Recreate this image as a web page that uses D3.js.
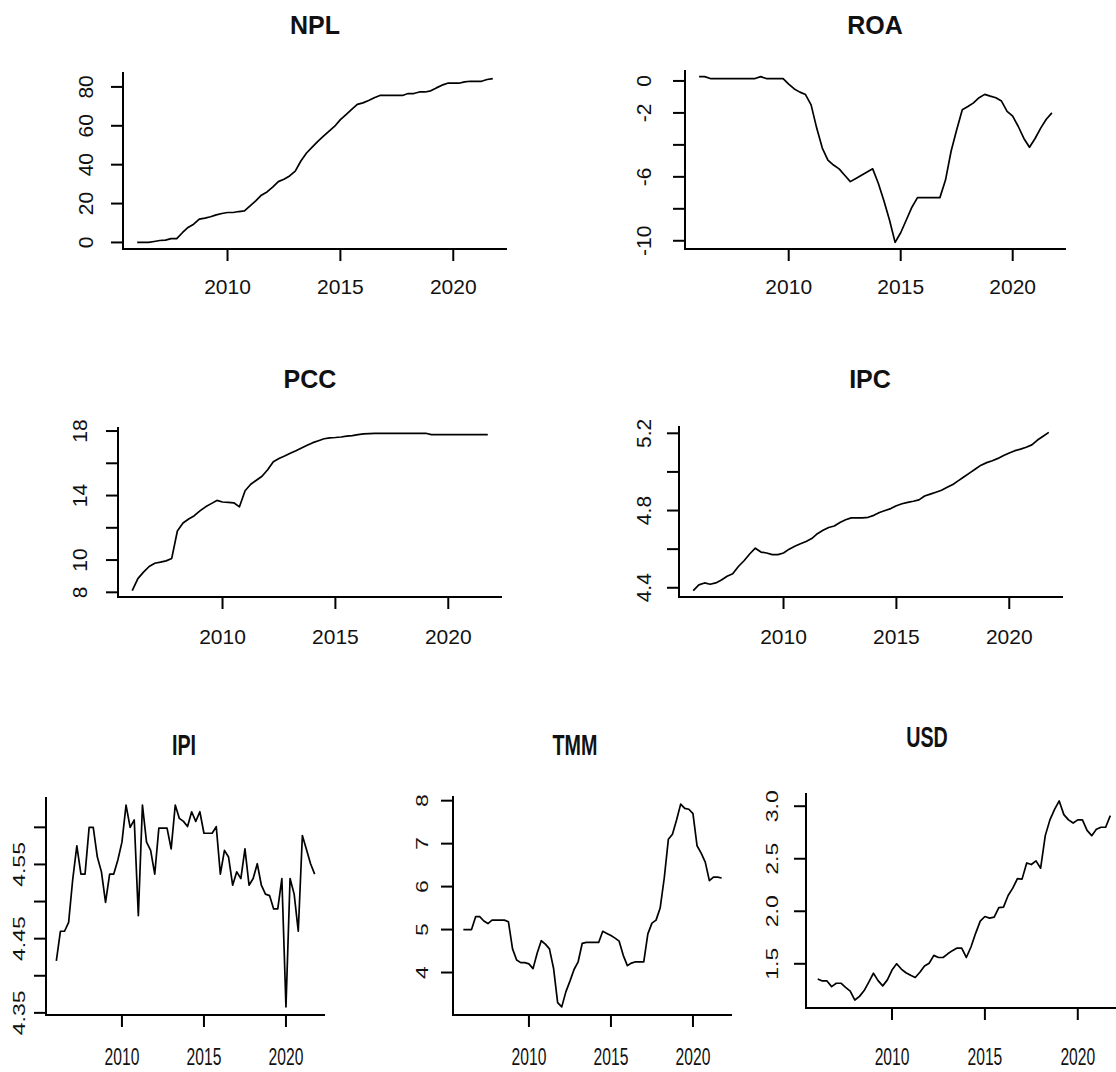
<!DOCTYPE html>
<html>
<head>
<meta charset="utf-8">
<script src="https://cdn.jsdelivr.net/npm/d3@7"></script>
<style>
  body { margin: 0; background: #fff; }
  svg { display: block; }
  text { font-family: "Liberation Sans", Arial, sans-serif; fill: #111; }
</style>
</head>
<body>
<div id="chart"></div>
<script>
// 1- Data (quarterly, 2006 Q1 - 2021 Q4)------------------------------------------------------
const quarters = d3.range(64).map(i => 2006 + i / 4);
const yearTicks = [2010, 2015, 2020];

const nplValues = [0,0,0,0.5, 1,1.2,2,2, 5,7.7,9.4,12, 12.5,13.2,14.2,14.9,
    15.4,15.4,15.9,16.2, 18.8,21.4,24.3,26, 28.5,31.3,32.5,34.2, 36.7,41.9,46,49,
    52,54.7,57.3,59.8, 63.2,65.8,68.4,71, 71.8,73,74.4,75.6, 75.6,75.6,75.6,75.6,
    76.6,76.6,77.4,77.4, 78,79.5,80.9,81.9, 81.9,81.9,82.6,82.9, 82.9,82.9,83.8,84.3];

const roaValues = [0.27,0.27,0.15,0.15, 0.15,0.15,0.15,0.15, 0.15,0.15,0.15,0.27, 0.15,0.15,0.15,0.15,
    -0.2,-0.5,-0.7,-0.85, -1.5,-2.95,-4.2,-4.95, -5.26,-5.5,-5.9,-6.3, -6.1,-5.9,-5.7,-5.5,
    -6.4,-7.5,-8.7,-10.1, -9.5,-8.7,-7.9,-7.3, -7.3,-7.3,-7.3,-7.3, -6.2,-4.4,-3.05,-1.8,
    -1.6,-1.37,-1.05,-0.84, -0.95,-1.05,-1.26,-1.9, -2.2,-2.85,-3.6,-4.15, -3.6,-2.95,-2.4,-2.0];

const pccValues = [8.1,8.85,9.25,9.6, 9.8,9.87,9.95,10.1, 11.8,12.3,12.55,12.75, 13.05,13.3,13.5,13.7,
    13.6,13.58,13.55,13.3, 14.3,14.7,14.95,15.2, 15.6,16.1,16.3,16.45, 16.62,16.78,16.95,17.12,
    17.28,17.4,17.52,17.58, 17.6,17.63,17.68,17.72, 17.78,17.82,17.84,17.86, 17.86,17.86,17.86,17.86,
    17.86,17.86,17.86,17.86, 17.86,17.78,17.78,17.78, 17.78,17.78,17.78,17.78, 17.78,17.78,17.78,17.78];

const ipcValues = [4.385,4.415,4.425,4.418, 4.425,4.44,4.46,4.473, 4.51,4.54,4.575,4.605, 4.585,4.58,4.572,4.572,
    4.58,4.6,4.615,4.628, 4.64,4.655,4.68,4.698, 4.712,4.72,4.738,4.752, 4.762,4.762,4.762,4.765,
    4.775,4.79,4.8,4.81, 4.825,4.835,4.842,4.848, 4.855,4.875,4.885,4.895, 4.905,4.92,4.935,4.955,
    4.975,4.995,5.015,5.035, 5.048,5.058,5.07,5.085, 5.098,5.11,5.118,5.128, 5.14,5.165,5.185,5.205];

const ipiValues = [4.42,4.46,4.46,4.472, 4.53,4.575,4.537,4.537, 4.6,4.6,4.56,4.54, 4.499,4.537,4.537,4.556,
    4.58,4.63,4.6,4.61, 4.481,4.63,4.58,4.569, 4.537,4.599,4.599,4.599, 4.571,4.63,4.612,4.608,
    4.601,4.621,4.608,4.621, 4.592,4.592,4.592,4.601, 4.537,4.569,4.56,4.522, 4.54,4.531,4.571,4.522,
    4.531,4.551,4.522,4.51, 4.508,4.49,4.49,4.531, 4.358,4.531,4.51,4.46, 4.589,4.57,4.551,4.537];

const tmmValues = [5.0,5.0,5.0,5.3, 5.3,5.2,5.14,5.22, 5.22,5.22,5.22,5.18, 4.55,4.29,4.23,4.23,
    4.2,4.09,4.45,4.74, 4.66,4.55,4.1,3.3, 3.2,3.55,3.8,4.07, 4.25,4.68,4.7,4.7,
    4.7,4.7,4.96,4.91, 4.86,4.8,4.73,4.4, 4.16,4.22,4.25,4.25, 4.25,4.9,5.15,5.22,
    5.5,6.2,7.1,7.22, 7.55,7.92,7.82,7.8, 7.7,6.95,6.78,6.57, 6.14,6.22,6.22,6.2];

const usdValues = [1.356,1.337,1.337,1.283, 1.315,1.315,1.275,1.24, 1.155,1.19,1.245,1.325, 1.41,1.34,1.29,1.347,
    1.44,1.5,1.45,1.415, 1.39,1.37,1.42,1.48, 1.505,1.58,1.56,1.56, 1.595,1.625,1.65,1.65,
    1.56,1.66,1.79,1.906, 1.95,1.935,1.945,2.034, 2.04,2.15,2.22,2.31, 2.306,2.46,2.445,2.48,
    2.41,2.72,2.87,2.97, 3.05,2.92,2.87,2.84, 2.87,2.87,2.77,2.72, 2.78,2.8,2.8,2.91];

// y ticks, and the ticks that carry a label
const nplTicks = [0, 20, 40, 60, 80],              nplLabels = [0, 20, 40, 60, 80];
const roaTicks = [-10, -8, -6, -4, -2, 0],         roaLabels = [-10, -6, -2, 0];
const pccTicks = [8, 10, 12, 14, 16, 18],          pccLabels = [8, 10, 14, 18];
const ipcTicks = [4.4, 4.6, 4.8, 5.0, 5.2],        ipcLabels = [4.4, 4.8, 5.2];
const ipiTicks = [4.35, 4.40, 4.45, 4.50, 4.55, 4.60], ipiLabels = [4.35, 4.45, 4.55];
const tmmTicks = [4, 5, 6, 7, 8],                  tmmLabels = [4, 5, 6, 7, 8];
const usdTicks = [1.5, 2.0, 2.5, 3.0],             usdLabels = [1.5, 2.0, 2.5, 3.0];

// 2- SVG wrapper-------------------------------------------------------------------------------
const svgWidth = 1116;
const svgHeight = 1072;

const svg = d3.select("#chart")
    .append("svg")
    .attr("width", svgWidth)
    .attr("height", svgHeight);

// R-like padded extent (4% each side)
function padded(ext) {
    const p = (ext[1] - ext[0]) * 0.04;
    return [ext[0] - p, ext[1] + p];
}

// 3- One panel---------------------------------------------------------------------------------
function drawPanel(p) {
    const g = svg.append("g");
    const sq = p.squeeze || 1;

    const x = d3.scaleLinear()
        .domain(padded(d3.extent(quarters)))
        .range([p.l, p.r]);
    const y = d3.scaleLinear()
        .domain(padded(d3.extent(p.values)))
        .range([p.b, p.t]);

    // L-shaped frame
    g.append("path")
        .attr("d", `M${p.l},${p.t}V${p.b}H${p.r}`)
        .attr("fill", "none")
        .attr("stroke", "#000")
        .attr("stroke-width", 2);

    // x ticks + labels
    g.selectAll(".xt").data(yearTicks).enter().append("line")
        .attr("x1", d => x(d)).attr("x2", d => x(d))
        .attr("y1", p.b).attr("y2", p.b + p.tick)
        .attr("stroke", "#000").attr("stroke-width", 2);

    g.selectAll(".xl").data(yearTicks).enter().append("text")
        .attr("transform", d => `translate(${x(d)},${p.xLabelY}) scale(${sq},1)`)
        .attr("text-anchor", "middle")
        .attr("dominant-baseline", "central")
        .attr("font-size", p.fs)
        .text(d => d);

    // y ticks + labels
    g.selectAll(".yt").data(p.ticks).enter().append("line")
        .attr("x1", p.l).attr("x2", p.l - p.tick)
        .attr("y1", d => y(d)).attr("y2", d => y(d))
        .attr("stroke", "#000").attr("stroke-width", 2);

    g.selectAll(".yl").data(p.labels).enter().append("text")
        .attr("transform", d => `translate(${p.yLabelX},${y(d)}) scale(${sq},1) rotate(-90)`)
        .attr("text-anchor", "middle")
        .attr("dominant-baseline", "central")
        .attr("font-size", p.fs)
        .text(d => d.toFixed(p.digits));

    // series line
    const line = d3.line()
        .x((d, i) => x(quarters[i]))
        .y(d => y(d));

    g.append("path")
        .datum(p.values)
        .attr("d", line)
        .attr("fill", "none")
        .attr("stroke", "#000")
        .attr("stroke-width", 1.7)
        .attr("stroke-linejoin", "round");

    // title
    g.append("text")
        .attr("transform", `translate(${p.titleX},${p.titleY}) scale(${sq},1)`)
        .attr("text-anchor", "middle")
        .attr("dominant-baseline", "central")
        .attr("font-size", p.titleFs)
        .attr("font-weight", "bold")
        .text(p.name);
}

// 4- Panels------------------------------------------------------------------------------------
drawPanel({name: "NPL", values: nplValues, ticks: nplTicks, labels: nplLabels, digits: 0,
    l: 123, r: 507, t: 72, b: 249, tick: 12, yLabelX: 85, xLabelY: 286,
    fs: 21, titleFs: 25, titleX: 315, titleY: 25});

drawPanel({name: "ROA", values: roaValues, ticks: roaTicks, labels: roaLabels, digits: 0,
    l: 685, r: 1066, t: 70, b: 249, tick: 12, yLabelX: 643, xLabelY: 286,
    fs: 21, titleFs: 25, titleX: 875, titleY: 25});

drawPanel({name: "PCC", values: pccValues, ticks: pccTicks, labels: pccLabels, digits: 0,
    l: 118, r: 502, t: 427, b: 597, tick: 12, yLabelX: 79, xLabelY: 636,
    fs: 21, titleFs: 25, titleX: 310, titleY: 379});

drawPanel({name: "IPC", values: ipcValues, ticks: ipcTicks, labels: ipcLabels, digits: 1,
    l: 679, r: 1063, t: 426, b: 597, tick: 12, yLabelX: 643, xLabelY: 636,
    fs: 21, titleFs: 25, titleX: 870, titleY: 379});

drawPanel({name: "IPI", values: ipiValues, ticks: ipiTicks, labels: ipiLabels, digits: 2,
    l: 46, r: 325, t: 797, b: 1015, tick: 12, yLabelX: 19, xLabelY: 1057,
    fs: 23, titleFs: 29, titleX: 184, titleY: 745, squeeze: 0.68});

drawPanel({name: "TMM", values: tmmValues, ticks: tmmTicks, labels: tmmLabels, digits: 0,
    l: 453, r: 732, t: 796, b: 1015, tick: 12, yLabelX: 422, xLabelY: 1057,
    fs: 23, titleFs: 29, titleX: 575, titleY: 745, squeeze: 0.68});

drawPanel({name: "USD", values: usdValues, ticks: usdTicks, labels: usdLabels, digits: 1,
    l: 806, r: 1122, t: 793, b: 1008, tick: 12, yLabelX: 772, xLabelY: 1057,
    fs: 23, titleFs: 29, titleX: 927, titleY: 737, squeeze: 0.68});
</script>
</body>
</html>
